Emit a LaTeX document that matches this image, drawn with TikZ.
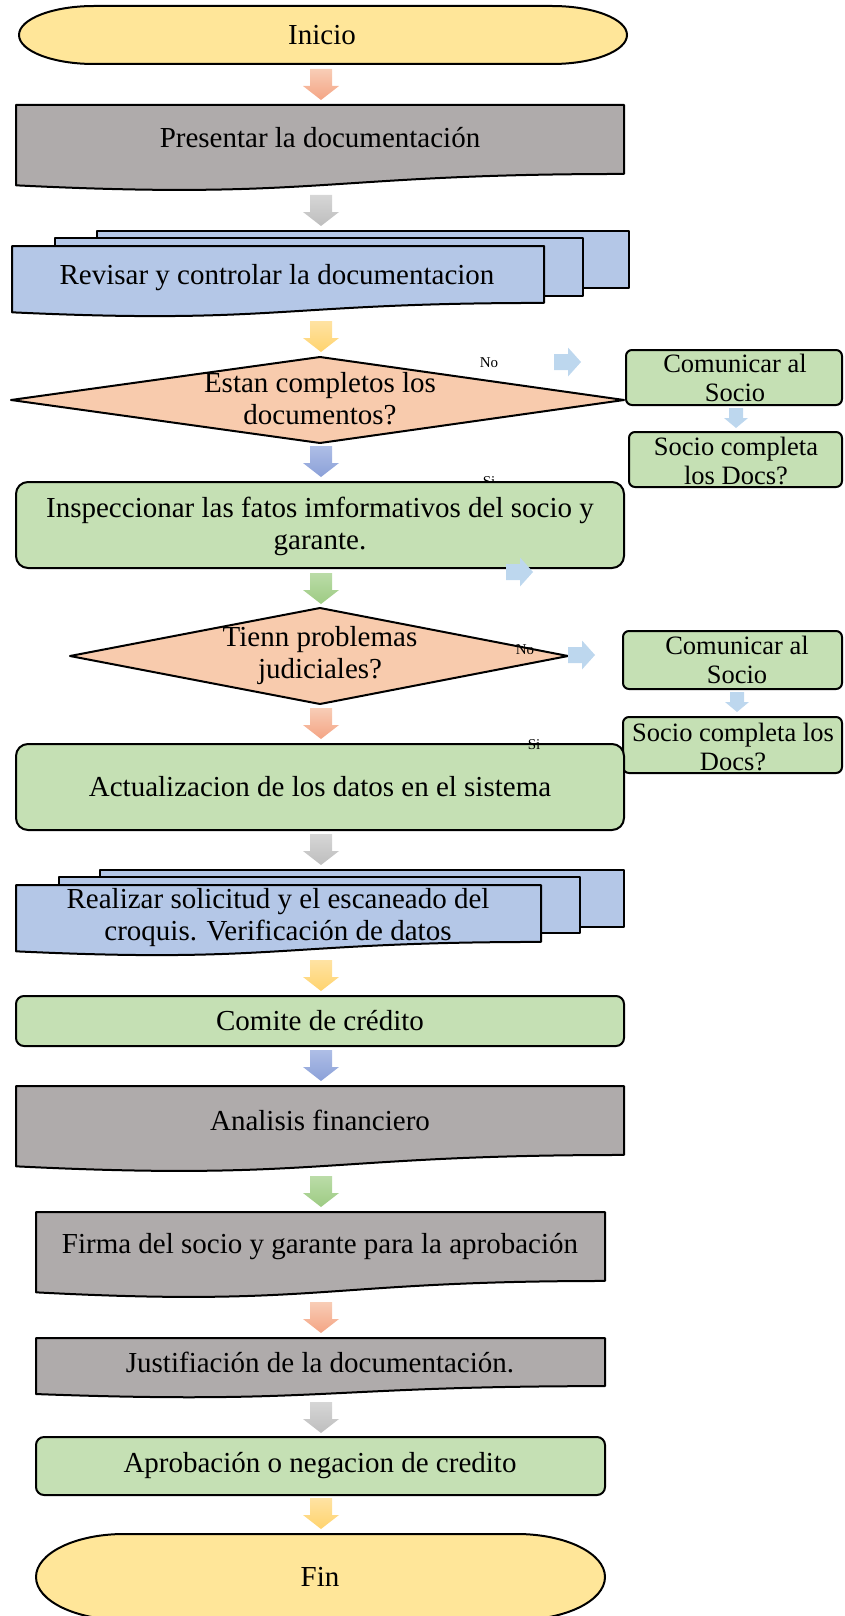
\documentclass[tikz,border=0pt]{standalone}
\usepackage{fontspec}
\setmainfont{Liberation Serif}
\begin{document}
\begin{tikzpicture}[x=1pt,y=-1pt,
  every node/.style={font=\fontsize{29}{32}\selectfont, align=center, inner sep=0pt},
  box/.style={draw=black, line width=2pt, line join=round},
  side/.style={font=\fontsize{26.5}{29}\selectfont},
  small/.style={font=\fontsize{15}{17}\selectfont}]
\definecolor{termfill}{HTML}{FFE699}
\definecolor{grayfill}{HTML}{AFABAB}
\definecolor{bluefill}{HTML}{B4C7E7}
\definecolor{greenfill}{HTML}{C5E0B4}
\definecolor{diafill}{HTML}{F8CBAD}
\definecolor{lblue}{HTML}{BDD7EE}
\definecolor{orT}{HTML}{F8CDB6}\definecolor{orB}{HTML}{F4A484}
\definecolor{grT}{HTML}{D6D6D6}\definecolor{grB}{HTML}{BEBEBE}
\definecolor{ylT}{HTML}{FFE3A3}\definecolor{ylB}{HTML}{FFD36E}
\definecolor{blT}{HTML}{AEBEE6}\definecolor{blB}{HTML}{8BA0D8}
\definecolor{gnT}{HTML}{BBDCA8}\definecolor{gnB}{HTML}{9DCB83}

% terminator: x1, x2, ytop, ybottom, corner x radius, fill
\newcommand\termshape[6]{%
  \path[box, fill=#6] ({#1+#5},#3) -- ({#2-#5},#3)
    arc[start angle=-90, end angle=90, x radius=#5, y radius={(#4-#3)/2}]
    -- ({#1+#5},#4)
    arc[start angle=90, end angle=270, x radius=#5, y radius={(#4-#3)/2}] -- cycle;}
% document: x1, x2, ytop, height, fill
\newcommand\docshape[5]{%
  \path[box, fill=#5] (#1,#3) -- (#2,#3) -- (#2,{#3+0.802*#4})
    .. controls ({(#1+#2)/2},{#3+0.802*#4}) and ({(#1+#2)/2},{#3+1.1075*#4}) ..
    (#1,{#3+0.934*#4}) -- cycle;}
% block arrow pointing down: centre x, top y, top colour, bottom colour
\newcommand\dnarrow[4]{%
  \path[top color=#3, bottom color=#4] ({#1-11},#2) -- ({#1+11},#2) -- ({#1+11},{#2+17})
    -- ({#1+18},{#2+17}) -- (#1,{#2+31}) -- ({#1-18},{#2+17}) -- ({#1-11},{#2+17}) -- cycle;}
% small block arrow pointing down
\newcommand\smdnarrow[2]{%
  \path[fill=lblue] ({#1-7},#2) -- ({#1+7},#2) -- ({#1+7},{#2+10})
    -- ({#1+12},{#2+10}) -- (#1,{#2+20}) -- ({#1-12},{#2+10}) -- ({#1-7},{#2+10}) -- cycle;}
% block arrow pointing right: left x, centre y
\newcommand\rtarrow[2]{%
  \path[fill=lblue] (#1,{#2-8}) -- ({#1+14},{#2-8}) -- ({#1+14},{#2-14.5}) -- ({#1+27},#2)
    -- ({#1+14},{#2+14.5}) -- ({#1+14},{#2+8}) -- (#1,{#2+8}) -- cycle;}

\useasboundingbox (0,0) rectangle (844,1616);
\clip (0,0) rectangle (844,1616);

% Inicio
\termshape{19}{627}{6}{64}{75}{termfill}
\node (inicio) at (322,35) {Inicio};
\dnarrow{321}{69}{orT}{orB}

% Presentar la documentacion
\docshape{16}{624}{105}{86}{grayfill}
\node (presentar) at (320,138) {Presentar la documentación};
\dnarrow{321}{195}{grT}{grB}

% Revisar y controlar (stack of pages)
\path[box, fill=bluefill] (97,231) rectangle (629,288);
\path[box, fill=bluefill] (55,238) rectangle (583,296);
\docshape{12}{544}{246}{71}{bluefill}
\node (revisar) at (277,278) {Revisar y controlar la documentacion};
\dnarrow{321}{321}{ylT}{ylB}

% First decision
\path[box, fill=diafill] (11,400) -- (320,357) -- (624,400) -- (320,443) -- cycle;
\node (completos) at (320,399) {Estan completos los\\documentos?};
\node[small] (no1) at (489,363) {No};
\rtarrow{554}{362}
\path[box, fill=greenfill, rounded corners=6pt] (626,350) rectangle (842,405);
\node[side] (comunicar1) at (735,378) {Comunicar al\\Socio};
\smdnarrow{736}{408}
\path[box, fill=greenfill, rounded corners=6pt] (629,432) rectangle (842,487);
\node[side] (socio1) at (736,461) {Socio completa\\los Docs?};
\dnarrow{321}{446}{blT}{blB}
\node[small] (si1) at (489,482) {Si};

% Inspeccionar
\path[box, fill=greenfill, rounded corners=12pt] (16,482) rectangle (624,568);
\node (inspeccionar) at (320,526) {Inspeccionar las fatos imformativos del socio y\\garante.};
\rtarrow{506}{572}
\dnarrow{321}{573}{gnT}{gnB}

% Second decision
\path[box, fill=diafill] (70,656) -- (320,608) -- (568,656) -- (320,704) -- cycle;
\node (judiciales) at (320,656) {Tienn problemas\\judiciales?};
\node[small] (no2) at (525,650) {No};
\rtarrow{568}{655}
\path[box, fill=greenfill, rounded corners=6pt] (623,631) rectangle (842,689);
\node[side] (comunicar2) at (737,660) {Comunicar al\\Socio};
\smdnarrow{737}{692}
\path[box, fill=greenfill, rounded corners=6pt] (623,717) rectangle (842,773);
\node[side] (socio2) at (733,747) {Socio completa los\\Docs?};
\dnarrow{321}{708}{orT}{orB}

% Actualizacion
\path[box, fill=greenfill, rounded corners=12pt] (16,744) rectangle (624,830);
\node[small] (si2) at (534,745) {Si};
\node (actualizacion) at (320,787) {Actualizacion de los datos en el sistema};
\dnarrow{321}{834}{grT}{grB}

% Realizar solicitud (stack of pages)
\path[box, fill=bluefill] (100,870) rectangle (624,927);
\path[box, fill=bluefill] (59,877) rectangle (580,933);
\docshape{16}{541}{885}{71}{bluefill}
\node (realizar) at (278,918) {Realizar solicitud y el escaneado del\\croquis. Verificación de datos};
\dnarrow{321}{960}{ylT}{ylB}

% Comite de credito
\path[box, fill=greenfill, rounded corners=8pt] (16,996) rectangle (624,1046);
\node (comite) at (320,1021) {Comite de crédito};
\dnarrow{321}{1050}{blT}{blB}

% Analisis financiero
\docshape{16}{624}{1086}{86}{grayfill}
\node (analisis) at (320,1120) {Analisis financiero};
\dnarrow{321}{1176}{gnT}{gnB}

% Firma
\docshape{36}{605}{1212}{86}{grayfill}
\node (firma) at (320,1247) {Firma del socio y garante para la aprobación};
\dnarrow{321}{1302}{orT}{orB}

% Justificacion
\docshape{36}{605}{1338}{60}{grayfill}
\node (justificacion) at (320,1362) {Justifiación de la documentación.};
\dnarrow{321}{1402}{grT}{grB}

% Aprobacion
\path[box, fill=greenfill, rounded corners=8pt] (36,1437) rectangle (605,1495);
\node (aprobacion) at (320,1466) {Aprobación o negacion de credito};
\dnarrow{321}{1498}{ylT}{ylB}

% Fin
\termshape{36}{605}{1534}{1620}{88}{termfill}
\node (fin) at (320,1577) {Fin};
\end{tikzpicture}
\end{document}
